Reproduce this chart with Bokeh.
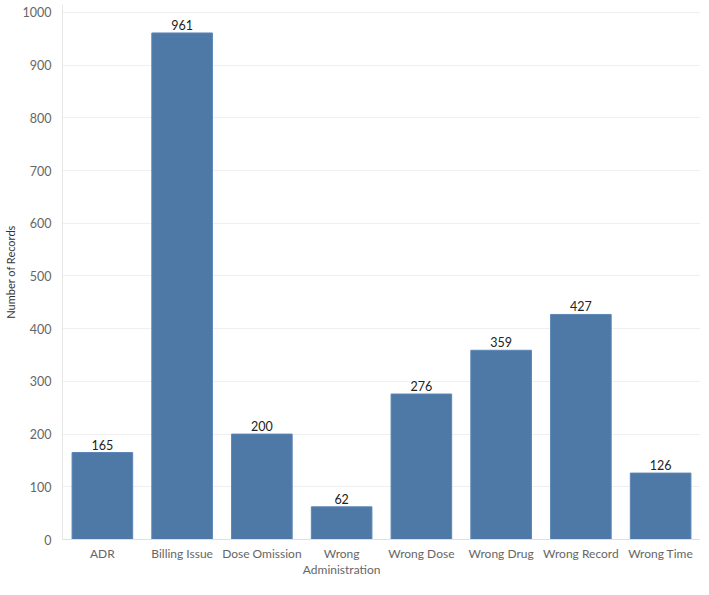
from bokeh.plotting import figure
from bokeh.models import (ColumnDataSource, LabelSet, FixedTicker, CategoricalAxis,
                          CustomJSTickFormatter)
from bokeh.core.properties import value
from bokeh.embed import file_html
from bokeh.resources import INLINE

categories = ["ADR", "Billing Issue", "Dose Omission", "Wrong Administration",
              "Wrong Dose", "Wrong Drug", "Wrong Record", "Wrong Time"]
tick_line1 = ["ADR", "Billing Issue", "Dose Omission", "Wrong",
              "Wrong Dose", "Wrong Drug", "Wrong Record", "Wrong Time"]
tick_line2 = ["", "", "", "Administration", "", "", "", ""]
records = [165, 961, 200, 62, 276, 359, 427, 126]
y_ticks = [0, 100, 200, 300, 400, 500, 600, 700, 800, 900, 1000]

FONT = "Lato"

src = ColumnDataSource(dict(cat=categories, val=records,
                            lab=[str(v) for v in records]))

p = figure(x_range=categories, y_range=(0, 1015), width=700, height=579,
           output_backend="svg", toolbar_location=None,
           min_border_left=40, min_border_right=0, min_border_top=4,
           min_border_bottom=0)

p.vbar(x="cat", top="val", width=0.76, source=src,
       fill_color="#4e79a7", line_color="#5b86b5", line_width=1)

labels = LabelSet(x="cat", y="val", text="lab", source=src,
                  text_align="center", text_baseline="bottom", y_offset=3,
                  text_font_size="12.5px", text_color="#222222",
                  text_font=value(FONT))
p.add_layout(labels)

p.yaxis.ticker = FixedTicker(ticks=y_ticks)
p.yaxis.axis_label = "Number of Records"
p.yaxis.axis_label_text_font = FONT
p.yaxis.axis_label_text_font_style = "normal"
p.yaxis.axis_label_text_font_size = "11px"
p.yaxis.axis_label_text_color = "#333333"
p.yaxis.axis_label_standoff = 3
p.yaxis.major_label_text_font = FONT
p.yaxis.major_label_text_font_size = "12.5px"
p.yaxis.major_label_text_color = "#666666"
p.yaxis.axis_line_color = "#e6e6e6"
p.yaxis.major_tick_line_color = None
p.yaxis.minor_tick_line_color = None
p.yaxis.major_label_standoff = 5

map1 = {c: t for c, t in zip(categories, tick_line1)}
map2 = {c: t for c, t in zip(categories, tick_line2)}
code = "return (tick in m) ? m[tick] : tick;"

p.xaxis.formatter = CustomJSTickFormatter(args=dict(m=map1), code=code)
p.xaxis.major_label_text_font = FONT
p.xaxis.major_label_text_font_size = "12px"
p.xaxis.major_label_text_color = "#666666"
p.xaxis.axis_line_color = "#e0e0e0"
p.xaxis.major_tick_line_color = None
p.xaxis.major_tick_in = 0
p.xaxis.major_tick_out = 0
p.xaxis.major_label_standoff = 6

ax2 = CategoricalAxis(formatter=CustomJSTickFormatter(args=dict(m=map2), code=code),
                      major_label_text_font=FONT, major_label_text_font_size="12px",
                      major_label_text_color="#666666", axis_line_color=None,
                      major_tick_line_color=None, minor_tick_line_color=None,
                      major_tick_in=0, major_tick_out=0,
                      major_label_standoff=-2)
p.add_layout(ax2, "below")

p.xgrid.grid_line_color = None
p.ygrid.grid_line_color = "#efefef"
p.outline_line_color = None
p.x_range.range_padding = 0

open("out.html", "w").write(file_html(p, INLINE))
